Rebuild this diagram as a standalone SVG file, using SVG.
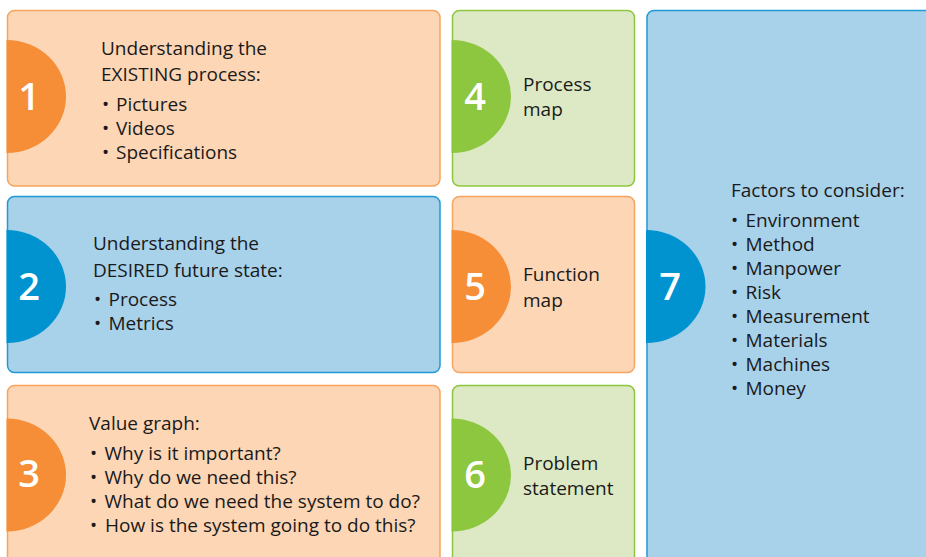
<svg xmlns="http://www.w3.org/2000/svg" width="926" height="557" viewBox="0 0 926 557">
<style>
text{font-family:"Open Sans","Noto Sans","Liberation Sans",sans-serif;fill:#1a1a1a;font-size:19px}
.num{font-size:38px;font-weight:600;fill:#ffffff;text-anchor:middle}
.bo{fill:#fdd6b5;stroke:#f7a55e;stroke-width:1.5}
.bb{fill:#a8d1ea;stroke:#1f9ad6;stroke-width:1.5}
.bg{fill:#dce9c4;stroke:#8dc63f;stroke-width:1.5}
.co{fill:#f68d37}
.cb{fill:#0093cf}
.cg{fill:#8dc63f}
</style>
<rect width="926" height="557" fill="#ffffff"/>
<g id="node1">
<rect class="bo" x="7.5" y="10.5" width="432.5" height="175.5" rx="7"/>
<path class="co" d="M6.5,40 A59.5,56.5 0 0 1 6.5,153 Z"/>
<text class="num" x="29" y="110">1</text>
<text x="101" y="55">Understanding the</text>
<text x="101" y="81">EXISTING process:</text>
<text x="102" y="111">•<tspan x="116">Pictures</tspan></text>
<text x="102" y="135">•<tspan x="116">Videos</tspan></text>
<text x="102" y="159">•<tspan x="116">Specifications</tspan></text>
</g>
<g id="node2">
<rect class="bb" x="7.5" y="196.5" width="432.5" height="176" rx="7"/>
<path class="cb" d="M6.5,230 A59.5,56.5 0 0 1 6.5,343 Z"/>
<text class="num" x="29" y="300">2</text>
<text x="93" y="250">Understanding the</text>
<text x="93" y="277">DESIRED future state:</text>
<text x="94" y="306">•<tspan x="108.5">Process</tspan></text>
<text x="94" y="330">•<tspan x="108.5">Metrics</tspan></text>
</g>
<g id="node3">
<rect class="bo" x="7.5" y="385.5" width="432.5" height="190" rx="7"/>
<path class="co" d="M6.5,418.5 A59.5,56.5 0 0 1 6.5,531.5 Z"/>
<text class="num" x="29" y="487">3</text>
<text x="89" y="430">Value graph:</text>
<text x="90" y="460">•<tspan x="104.5">Why is it important?</tspan></text>
<text x="90" y="484">•<tspan x="104.5">Why do we need this?</tspan></text>
<text x="90" y="508">•<tspan x="104.5">What do we need the system to do?</tspan></text>
<text x="90" y="532">•<tspan x="105">How is the system going to do this?</tspan></text>
</g>
<g id="node4">
<rect class="bg" x="452.5" y="10.5" width="182" height="175.5" rx="7"/>
<path class="cg" d="M451.5,40 A59.5,56.5 0 0 1 451.5,153 Z"/>
<text class="num" x="475" y="110">4</text>
<text x="523" y="91">Process</text>
<text x="523" y="116">map</text>
</g>
<g id="node5">
<rect class="bo" x="452.5" y="196.5" width="182" height="176" rx="7"/>
<path class="co" d="M451.5,230 A59.5,56.5 0 0 1 451.5,343 Z"/>
<text class="num" x="475" y="300">5</text>
<text x="523" y="281">Function</text>
<text x="523" y="307">map</text>
</g>
<g id="node6">
<rect class="bg" x="452.5" y="385.5" width="182" height="190" rx="7"/>
<path class="cg" d="M451.5,418.5 A59.5,56.5 0 0 1 451.5,531.5 Z"/>
<text class="num" x="475" y="488">6</text>
<text x="523" y="470">Problem</text>
<text x="523" y="495">statement</text>
</g>
<g id="node7">
<rect class="bb" x="647" y="10.5" width="300" height="570" rx="7"/>
<path class="cb" d="M646,230 A59.5,56.5 0 0 1 646,343 Z"/>
<text class="num" x="670" y="300">7</text>
<text x="731" y="197">Factors to consider:</text>
<text x="731" y="227">•<tspan x="745.5">Environment</tspan></text>
<text x="731" y="251">•<tspan x="745.5">Method</tspan></text>
<text x="731" y="275">•<tspan x="745.5">Manpower</tspan></text>
<text x="731" y="299">•<tspan x="745.5">Risk</tspan></text>
<text x="731" y="323">•<tspan x="745.5">Measurement</tspan></text>
<text x="731" y="347">•<tspan x="745.5">Materials</tspan></text>
<text x="731" y="371">•<tspan x="745.5">Machines</tspan></text>
<text x="731" y="395">•<tspan x="745.5">Money</tspan></text>
</g>
<g id="connectors"/>
</svg>
